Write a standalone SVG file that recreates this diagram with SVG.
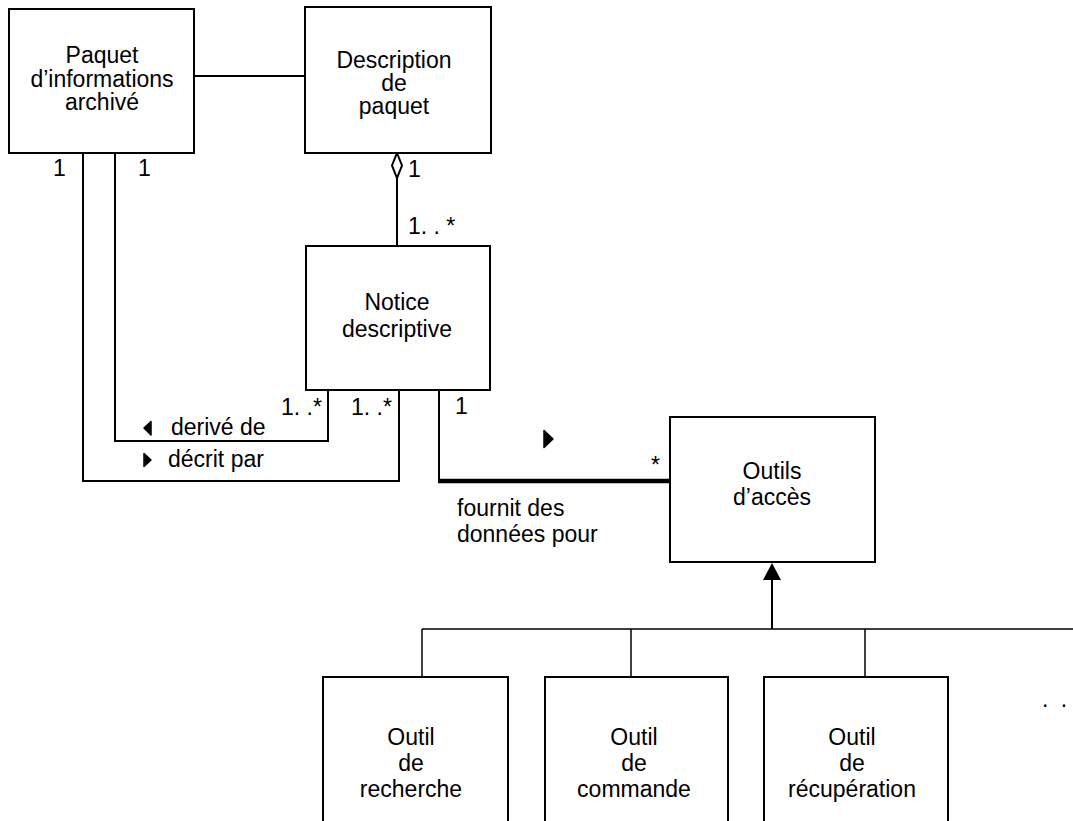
<svg xmlns="http://www.w3.org/2000/svg" width="1073" height="821" viewBox="0 0 1073 821">
<style>
  .box { fill: #ffffff; stroke: #000000; stroke-width: 2; }
  .t { font-family: "Liberation Sans", Arial, sans-serif; font-size: 23px; fill: #000000; }
  .c { text-anchor: middle; }
  .ln { fill: none; stroke: #000000; stroke-width: 2; }
  .thin { fill: none; stroke: #000000; stroke-width: 1.5; }
  .thick { fill: none; stroke: #000000; stroke-width: 4.5; }
  .dir { fill: #000000; stroke: #000000; stroke-width: 1.5; stroke-linejoin: round; }
</style>
<rect width="1073" height="821" fill="#ffffff"/>

<g id="connectors">
  <!-- Paquet - Description -->
  <line class="ln" x1="194" y1="76" x2="305" y2="76"/>
  <!-- aggregation Description - Notice -->
  <line class="ln" x1="397" y1="178" x2="397" y2="246"/>
  <polygon points="397,153 402,165.5 397,178 392,165.5" fill="#ffffff" stroke="#000000" stroke-width="2"/>
  <text class="t" x="408" y="177">1</text>
  <text class="t" x="408" y="234">1. . *</text>
  <!-- derive de -->
  <polyline class="ln" points="115,153 115,441 328,441 328,390"/>
  <polygon class="dir" points="144,428 151,421.5 151,435"/>
  <text class="t" x="171" y="435">derivé de</text>
  <text class="t" x="281" y="415">1. .*</text>
  <text class="t" x="138" y="176">1</text>
  <!-- decrit par -->
  <polyline class="ln" points="83,153 83,481 399,481 399,390"/>
  <polygon class="dir" points="144,453.5 151,460 144,466.5"/>
  <text class="t" x="168" y="467">décrit par</text>
  <text class="t" x="351" y="415">1. .*</text>
  <text class="t" x="53" y="176">1</text>
  <!-- fournit des donnees pour -->
  <line class="ln" x1="439" y1="390" x2="439" y2="482"/>
  <line class="thick" x1="438" y1="481" x2="670" y2="481"/>
  <polygon class="dir" points="544,430.5 553,439 544,447.5"/>
  <text class="t" x="455" y="414">1</text>
  <text class="t" x="651" y="473">*</text>
  <text class="t" x="457" y="516">fournit des</text>
  <text class="t" x="457" y="542">données pour</text>
  <!-- generalization -->
  <polygon points="772,563 781,580 763,580" fill="#000000"/>
  <line class="ln" x1="772" y1="580" x2="772" y2="629"/>
  <line class="thin" x1="422" y1="629" x2="1073" y2="629"/>
  <line class="thin" x1="422" y1="629" x2="422" y2="677"/>
  <line class="thin" x1="631" y1="629" x2="631" y2="677"/>
  <line class="thin" x1="865" y1="629" x2="865" y2="677"/>
  <text class="t" x="1042" y="707" letter-spacing="3">. .</text>
</g>

<g id="paquet-informations">
  <rect class="box" x="9" y="9" width="185" height="144"/>
  <text class="t c" x="102" y="63">Paquet</text>
  <text class="t c" x="102" y="87">d’informations</text>
  <text class="t c" x="102" y="110">archivé</text>
</g>

<g id="description-paquet">
  <rect class="box" x="305" y="7" width="186" height="146"/>
  <text class="t c" x="394" y="68">Description</text>
  <text class="t c" x="394" y="91">de</text>
  <text class="t c" x="394" y="114">paquet</text>
</g>

<g id="notice-descriptive">
  <rect class="box" x="306" y="246" width="184" height="144"/>
  <text class="t c" x="397" y="310">Notice</text>
  <text class="t c" x="397" y="337">descriptive</text>
</g>

<g id="outils-acces">
  <rect class="box" x="670" y="417" width="205" height="145"/>
  <text class="t c" x="772" y="479">Outils</text>
  <text class="t c" x="772" y="505">d’accès</text>
</g>

<g id="outil-recherche">
  <rect class="box" x="323" y="677" width="185" height="160"/>
  <text class="t c" x="411" y="745">Outil</text>
  <text class="t c" x="411" y="771">de</text>
  <text class="t c" x="411" y="797">recherche</text>
</g>

<g id="outil-commande">
  <rect class="box" x="545" y="677" width="183" height="160"/>
  <text class="t c" x="634" y="745">Outil</text>
  <text class="t c" x="634" y="771">de</text>
  <text class="t c" x="634" y="797">commande</text>
</g>

<g id="outil-recuperation">
  <rect class="box" x="764" y="677" width="184" height="160"/>
  <text class="t c" x="852" y="745">Outil</text>
  <text class="t c" x="852" y="771">de</text>
  <text class="t c" x="852" y="797">récupération</text>
</g>
</svg>
